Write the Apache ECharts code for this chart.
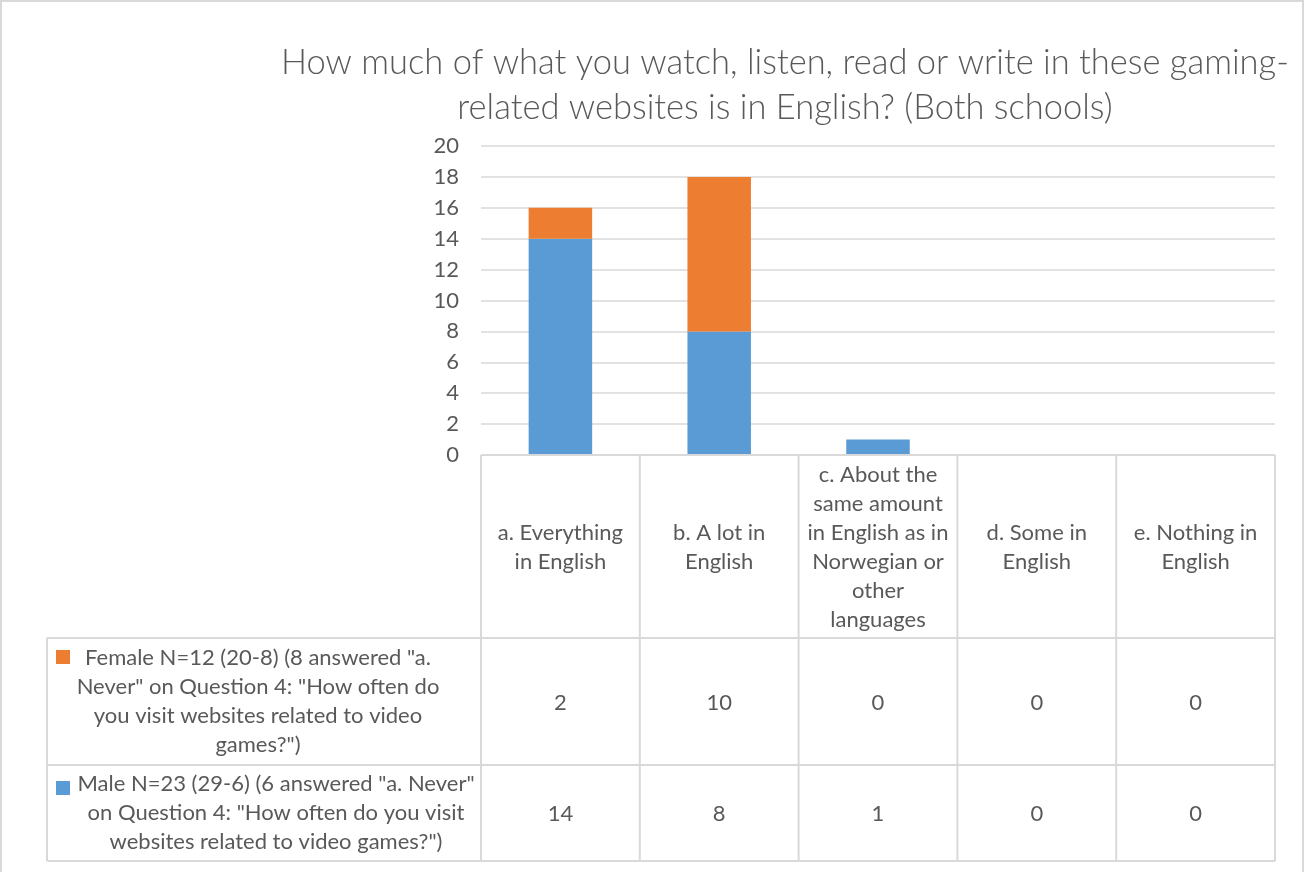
<!DOCTYPE html>
<html>
<head>
<meta charset="utf-8">
<title>Gaming websites in English</title>
<script src="https://cdn.jsdelivr.net/npm/echarts@6/dist/echarts.min.js"></script>
<style>
  html, body { margin: 0; padding: 0; background: #ffffff; }
  #chart { width: 1304px; height: 872px; }
</style>
</head>
<body>
<div id="chart"></div>
<script>
// Answer categories (wrapped the way they appear in the table header)
const categories = [
  'a. Everything\nin English',
  'b. A lot in\nEnglish',
  'c. About the\nsame amount\nin English as in\nNorwegian or\nother\nlanguages',
  'd. Some in\nEnglish',
  'e. Nothing in\nEnglish'
];

// Series labels as shown in the data table rows
const femaleLabel = 'Female N=12 (20-8) (8 answered "a.\nNever" on Question 4: "How often do\nyou visit websites related to video\ngames?")';
const maleLabel = 'Male N=23 (29-6) (6 answered "a. Never"\non Question 4: "How often do you visit\nwebsites related to video games?")';

// Counts per category
const femaleValues = [2, 10, 0, 0, 0];
const maleValues = [14, 8, 1, 0, 0];

// Value axis ticks
const yMin = 0;
const yMax = 20;
const yStep = 2;

const titleText = 'How much of what you watch, listen, read or write in these gaming-\nrelated websites is in English? (Both schools)';

const FEMALE_COLOR = '#ED7D31';
const MALE_COLOR = '#5B9BD5';
const TEXT_COLOR = '#595959';
const LINE_COLOR = '#D9D9D9';
const FONT = 'Lato, "Open Sans", sans-serif';
const TABLE_FONT_SIZE = 22;

// Layout of the plot and the data table beneath it
const GRID_LEFT = 481, GRID_RIGHT = 29, GRID_TOP = 146, GRID_BOTTOM = 417;
const TABLE_LEFT = 47;
const HEADER_BOTTOM = 638;
const ROW1_BOTTOM = 765;
const ROW2_BOTTOM = 861;

const chart = echarts.init(document.getElementById('chart'), null, { renderer: 'canvas' });

chart.setOption({
  animation: false,
  backgroundColor: '#ffffff',
  title: {
    text: titleText,
    left: 780,
    top: 35,
    textAlign: 'center',
    textStyle: {
      fontFamily: FONT,
      fontWeight: 300,
      fontSize: 34.5,
      lineHeight: 45,
      color: TEXT_COLOR
    }
  },
  grid: {
    left: GRID_LEFT,
    right: GRID_RIGHT,
    top: GRID_TOP,
    bottom: GRID_BOTTOM,
    containLabel: false
  },
  xAxis: {
    type: 'category',
    data: categories,
    axisLine: { show: false },
    axisTick: { show: false },
    axisLabel: {
      interval: 0,
      margin: 92,
      verticalAlign: 'middle',
      align: 'center',
      lineHeight: 29,
      fontFamily: FONT,
      fontSize: TABLE_FONT_SIZE,
      color: TEXT_COLOR
    },
    splitLine: { show: false }
  },
  yAxis: {
    type: 'value',
    min: yMin,
    max: yMax,
    interval: yStep,
    axisLine: { show: false },
    axisTick: { show: false },
    axisLabel: {
      margin: 22,
      fontFamily: FONT,
      fontSize: 22,
      color: TEXT_COLOR
    },
    splitLine: { lineStyle: { color: LINE_COLOR, width: 1.5 } }
  },
  series: [
    {
      name: 'Male',
      type: 'bar',
      stack: 'total',
      barWidth: '40%',
      data: maleValues,
      itemStyle: { color: MALE_COLOR }
    },
    {
      name: 'Female',
      type: 'bar',
      stack: 'total',
      barWidth: '40%',
      data: femaleValues,
      itemStyle: { color: FEMALE_COLOR }
    }
  ]
});

// Data table: cell borders, row headers with legend keys, and values
function buildTable() {
  const centers = categories.map((c, i) => chart.convertToPixel({ xAxisIndex: 0 }, i));
  const band = centers[1] - centers[0];
  const colEdges = [centers[0] - band / 2].concat(centers.map(c => c + band / 2));
  const tableTop = chart.convertToPixel({ yAxisIndex: 0 }, yMin);
  const right = colEdges[colEdges.length - 1];

  const els = [];
  const line = (x1, y1, x2, y2) => els.push({
    type: 'line',
    shape: { x1, y1, x2, y2 },
    style: { stroke: LINE_COLOR, lineWidth: 2 },
    z: 10
  });

  // horizontal borders
  line(colEdges[0], tableTop, right, tableTop);
  line(TABLE_LEFT, HEADER_BOTTOM, right, HEADER_BOTTOM);
  line(TABLE_LEFT, ROW1_BOTTOM, right, ROW1_BOTTOM);
  line(TABLE_LEFT, ROW2_BOTTOM, right, ROW2_BOTTOM);
  // vertical borders
  colEdges.forEach(x => line(x, tableTop, x, ROW2_BOTTOM));
  line(TABLE_LEFT, HEADER_BOTTOM, TABLE_LEFT, ROW2_BOTTOM);

  const rows = [
    { label: femaleLabel, values: femaleValues, color: FEMALE_COLOR, top: HEADER_BOTTOM, bottom: ROW1_BOTTOM, textX: 258, keyY: 650 },
    { label: maleLabel, values: maleValues, color: MALE_COLOR, top: ROW1_BOTTOM, bottom: ROW2_BOTTOM, textX: 276, keyY: 781 }
  ];

  rows.forEach(r => {
    const mid = (r.top + r.bottom) / 2;
    els.push({
      type: 'rect',
      shape: { x: 56, y: r.keyY, width: 14, height: 14 },
      style: { fill: r.color },
      z: 11
    });
    els.push({
      type: 'text',
      x: r.textX,
      y: mid,
      style: {
        text: r.label,
        align: 'center',
        verticalAlign: 'middle',
        lineHeight: 29,
        font: TABLE_FONT_SIZE + 'px ' + FONT,
        fill: TEXT_COLOR
      },
      z: 11
    });
    r.values.forEach((v, i) => {
      els.push({
        type: 'text',
        x: centers[i],
        y: mid + 1,
        style: {
          text: String(v),
          align: 'center',
          verticalAlign: 'middle',
          font: TABLE_FONT_SIZE + 'px ' + FONT,
          fill: TEXT_COLOR
        },
        z: 11
      });
    });
  });

  // chart area border
  els.push({
    type: 'rect',
    shape: { x: 1, y: 1, width: 1302, height: 880 },
    style: { fill: null, stroke: LINE_COLOR, lineWidth: 2 },
    z: 0,
    silent: true
  });

  chart.setOption({ graphic: { elements: els } });
}

buildTable();
</script>
</body>
</html>
